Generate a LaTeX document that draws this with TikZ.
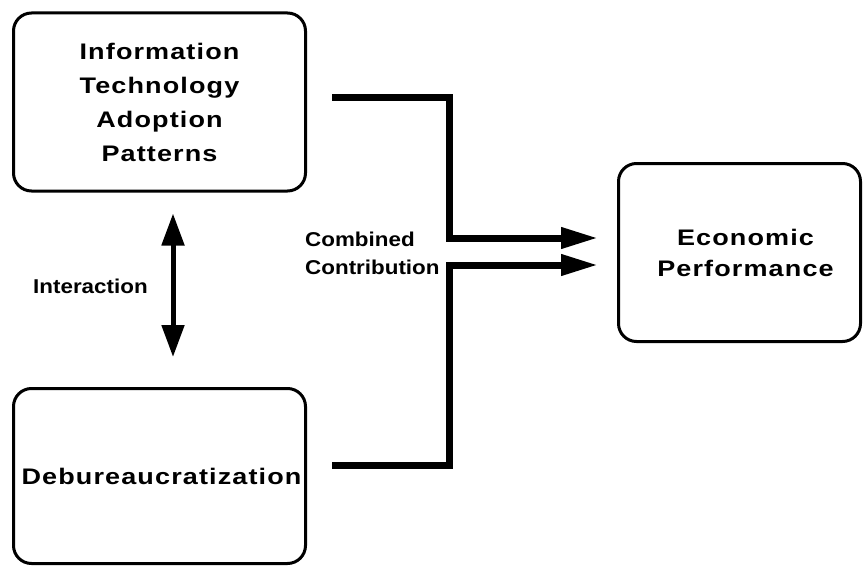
\documentclass[tikz,border=0pt]{standalone}
\usepackage{fontspec}
\setmainfont{Liberation Sans}
\newfontfamily\bigf[FakeStretch=1.2,LetterSpace=5]{Liberation Sans}
\newfontfamily\smallf[FakeStretch=1.12]{Liberation Sans}
\usetikzlibrary{arrows.meta}
\begin{document}
\begin{tikzpicture}[x=1pt,y=-1pt,
  box/.style={draw, line width=3pt, rounded corners=18pt, align=center, inner sep=0pt},
  bigtext/.style={font=\bigf\bfseries\fontsize{22.5}{#1}\selectfont},
  smalltext/.style={font=\smallf\bfseries\fontsize{20}{28}\selectfont, inner sep=0pt},
  conn/.style={line width=7pt, line join=miter, -{Triangle[length=37pt,width=20pt]}},
  biarrow/.style={line width=5pt, {Triangle[length=32pt,width=22pt]}-{Triangle[length=32pt,width=22pt]}}]
\useasboundingbox (0,0) rectangle (864,567);
\fill[white] (0,0) rectangle (864,567);
% boxes
\node[box, bigtext=34, minimum width=292pt, minimum height=178pt] (it) at (159.5,102)
  {Information\\Technology\\Adoption\\Patterns};
\node[box, bigtext=34, minimum width=292pt, minimum height=175pt] (deb) at (159.5,476)
  {\hspace*{4pt}Debureaucratization};
\node[box, bigtext=31, minimum width=242pt, minimum height=178pt] (eco) at (739.5,252.5)
  {\hspace*{12pt}Economic\\\hspace*{12pt}Performance};
% labels
\node[smalltext, anchor=base west] (inter) at (33,293) {Interaction};
\node[smalltext, anchor=base west] (comb1) at (305,246) {Combined};
\node[smalltext, anchor=base west] (comb2) at (305,274) {Contribution};
% connector helper points
\coordinate (s1) at (332,98);
\coordinate (j1) at (449,238);
\coordinate (e1) at (598,238);
\coordinate (s2) at (332,465);
\coordinate (j2) at (449,265);
\coordinate (e2) at (598,265);
\coordinate (ix) at (173,0);
% connectors
\draw[conn] (s1) -| (j1) -- (e1);
\draw[conn] (s2) -| (j2) -- (e2);
\draw[biarrow, shorten <=21pt, shorten >=30pt] (it.south -| ix) -- (deb.north -| ix);
\end{tikzpicture}
\end{document}
